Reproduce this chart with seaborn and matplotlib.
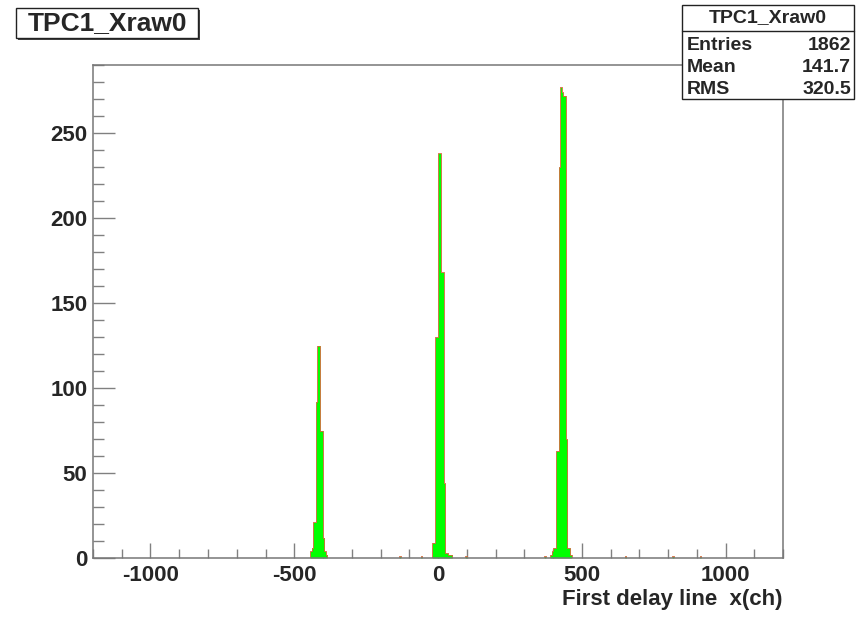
"""Recreate the TPC1_Xraw0 delay-line histogram (ROOT style) with seaborn."""

import matplotlib.pyplot as plt
import numpy as np
import pandas as pd
import seaborn as sns
from matplotlib.patches import Rectangle
from matplotlib.ticker import MultipleLocator

W, H = 859, 617

# bin centres (5 ch wide bins) and counts
peak1_x = [-442.5, -437.5, -432.5, -427.5, -422.5, -417.5, -412.5, -407.5, -402.5, -397.5, -392.5, -387.5]
peak1_n = [4, 6, 21, 21, 92, 125, 125, 75, 75, 12, 4, 2]

peak2_x = [-17.5, -12.5, -7.5, -2.5, 2.5, 7.5, 12.5, 17.5, 22.5, 27.5, 32.5, 37.5, 42.5, 47.5]
peak2_n = [9, 9, 130, 130, 238, 238, 168, 168, 44, 3, 3, 2, 2, 2]

peak3_x = [392.5, 397.5, 402.5, 407.5, 412.5, 417.5, 422.5, 427.5, 432.5, 437.5, 442.5, 447.5, 452.5, 457.5, 462.5]
peak3_n = [2, 4, 6, 6, 63, 63, 230, 277, 274, 272, 272, 70, 6, 6, 2]

# isolated single entries
stray_x = [-132.5, -57.5, 97.5, 372.5, 652.5, 817.5, 912.5]
stray_n = [1, 1, 1, 1, 1, 1, 1]

title = "TPC1_Xraw0"
x_label = "First delay line  x(ch)"
stats_rows = [("Entries", "1862"), ("Mean", "141.7"), ("RMS", "320.5")]

df = pd.DataFrame({
    "ch": np.concatenate([peak1_x, peak2_x, peak3_x, stray_x]),
    "n": np.concatenate([peak1_n, peak2_n, peak3_n, stray_n]),
})
n_bins = 480
x_range = (-1200, 1200)

sns.set_style("white")
plt.rcParams["font.family"] = ["Liberation Sans", "DejaVu Sans"]
plt.rcParams["font.weight"] = "bold"
plt.rcParams["axes.unicode_minus"] = False

fig = plt.figure(figsize=(W / 100, H / 100), dpi=100)
ax = fig.add_axes([93 / W, 1 - 558 / H, (783 - 93) / W, (558 - 65) / H])

sns.histplot(data=df, x="ch", weights="n", bins=n_bins, binrange=x_range,
             element="step", fill=True, color="#00ff00", alpha=1, linewidth=0, ax=ax)
sns.histplot(data=df, x="ch", weights="n", bins=n_bins, binrange=x_range,
             element="step", fill=False, color="#d9653a", linewidth=0.6, ax=ax)

ax.set_xlim(*x_range)
ax.set_ylim(0, 290)
ax.set_ylabel("")
ax.set_xlabel(x_label, loc="right", fontsize=16, fontweight="bold", labelpad=2)

ax.xaxis.set_major_locator(MultipleLocator(500))
ax.xaxis.set_minor_locator(MultipleLocator(100))
ax.yaxis.set_major_locator(MultipleLocator(50))
ax.yaxis.set_minor_locator(MultipleLocator(10))
ax.tick_params(axis="both", which="both", direction="in", color="#808080",
               labelsize=16, bottom=True, left=True, top=False, right=False)
ax.tick_params(axis="x", which="major", length=11, width=1, pad=5)
ax.tick_params(axis="x", which="minor", length=6.5, width=1)
ax.tick_params(axis="y", which="major", length=16, width=1, pad=4)
ax.tick_params(axis="y", which="minor", length=8, width=1)
for lab in ax.get_xticklabels() + ax.get_yticklabels():
    lab.set_fontweight("bold")
for side in ax.spines.values():
    side.set_visible(True)
    side.set_color("#777777")
    side.set_linewidth(1.1)


def box(left, top, right, bottom, shadow=2):
    """Draw a ROOT-like pave with a drop shadow, in pixel coords."""
    fig.add_artist(Rectangle(((left + shadow) / W, 1 - (bottom + shadow) / H),
                             (right - left) / W, (bottom - top) / H,
                             transform=fig.transFigure, facecolor="#444444",
                             edgecolor="none", zorder=5))
    fig.add_artist(Rectangle((left / W, 1 - bottom / H), (right - left) / W,
                             (bottom - top) / H, transform=fig.transFigure,
                             facecolor="white", edgecolor="#222222",
                             linewidth=1, zorder=6))


# title pave
box(16, 8, 198, 38)
fig.text(107 / W, 1 - 23 / H, title, ha="center", va="center", fontsize=19,
         fontweight="bold", zorder=7)

# stats pave
box(682, 5, 854, 99, shadow=1)
fig.add_artist(plt.Line2D([682 / W, 854 / W], [1 - 31 / H, 1 - 31 / H],
                          transform=fig.transFigure, color="#222222",
                          linewidth=1, zorder=7))
fig.text(768 / W, 1 - 18 / H, title, ha="center", va="center", fontsize=14,
         fontweight="bold", zorder=7)
for i, (name, val) in enumerate(stats_rows):
    y = 1 - (45 + i * 22) / H
    fig.text(687 / W, y, name, ha="left", va="center", fontsize=14,
             fontweight="bold", zorder=7)
    fig.text(851 / W, y, val, ha="right", va="center", fontsize=14,
             fontweight="bold", zorder=7)

fig.savefig("out.png", dpi=100)
